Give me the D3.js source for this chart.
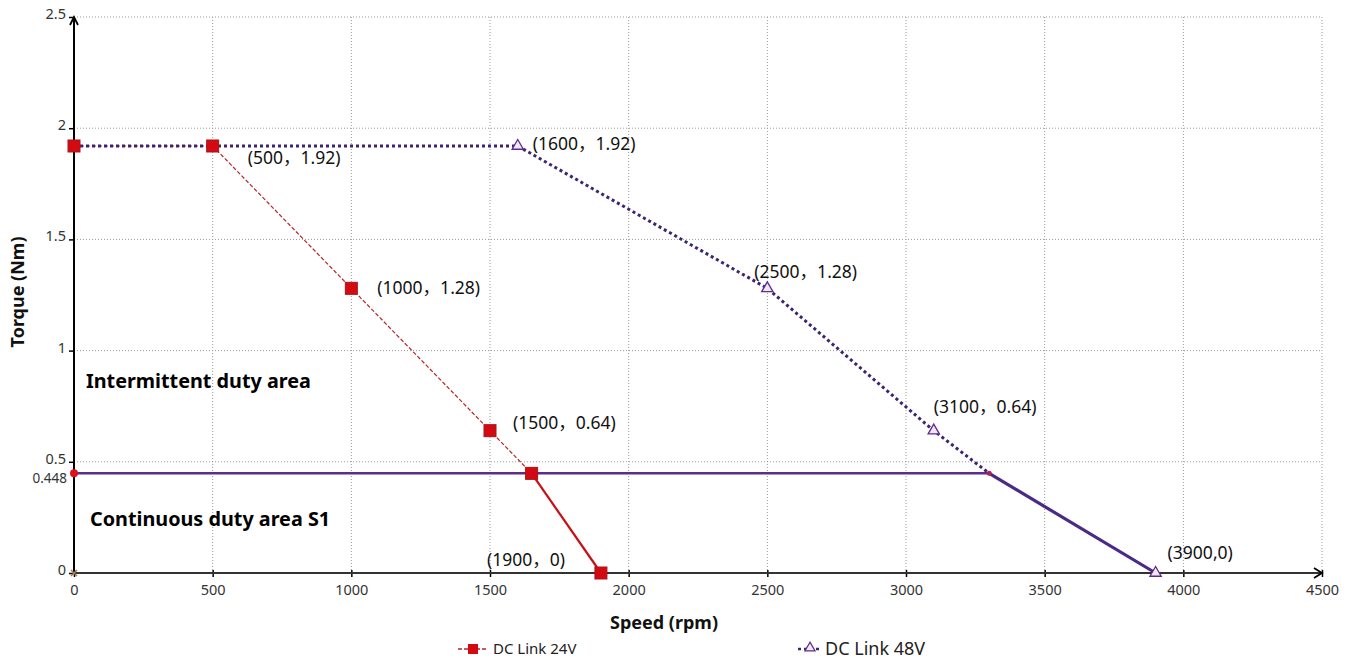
<!DOCTYPE html>
<html><head><meta charset="utf-8">
<script src="https://cdn.jsdelivr.net/npm/d3@7"></script>
<style>body{margin:0;background:#fff;} svg{display:block;font-family:"Noto Sans","Noto Sans CJK SC",sans-serif;}</style>
</head><body>
<svg id="c" width="1348" height="661"></svg>
<script>
// ---- data ----
const xTicks = [0,500,1000,1500,2000,2500,3000,3500,4000,4500];
const yTicks = [0,0.5,1,1.5,2,2.5];
const yTickLabels = ["0","0.5","1","1.5","2","2.5"];
const speed24 = [0,500,1000,1500,1650,1900];
const torque24 = [1.92,1.92,1.28,0.64,0.448,0];
const speed48 = [0,1600,2500,3100,3300,3900];
const torque48 = [1.92,1.92,1.28,0.64,0.448,0];
const contSpeed = [0,3300];
const contTorque = [0.448,0.448];
const annSpeed = [500,1000,1500,1900,1600,2500,3100,3900];
const annTorque = [1.92,1.28,0.64,0,1.92,1.28,0.64,0];
const annText = ["(500，1.92)","(1000，1.28)","(1500，0.64)","(1900，0)","(1600，1.92)","(2500，1.28)","(3100，0.64)","(3900,0)"];
const annOffset = [[35,12],[26,0],[23,-8],[-114,-13],[15,-2],[-13,-16],[0,-24],[12,-20]];

const svg = d3.select("#c");
const x = d3.scaleLinear().domain([0,4500]).range([74,1322]);
const y = d3.scaleLinear().domain([0,2.5]).range([573,17]);

// grid
const g = svg.append("g");
g.selectAll(".vg").data(xTicks.slice(1)).join("line")
  .attr("x1",d=>x(d)).attr("x2",d=>x(d)).attr("y1",y(2.5)).attr("y2",y(0))
  .attr("stroke","#9a9a9a").attr("stroke-width",1).attr("stroke-dasharray","1,2");
g.selectAll(".hg").data(yTicks.slice(1)).join("line")
  .attr("x1",x(0)).attr("x2",x(4500)).attr("y1",d=>y(d)).attr("y2",d=>y(d))
  .attr("stroke","#9a9a9a").attr("stroke-width",1).attr("stroke-dasharray","1,2");

// axes
const xAxis = d3.axisBottom(x).tickValues(xTicks).tickFormat(d3.format("d")).tickSize(4).tickSizeOuter(0);
const xa = svg.append("g").attr("transform",`translate(0,${y(0)})`).call(xAxis);
xa.select(".domain").remove();
xa.selectAll(".tick line").attr("y1",-3).attr("y2",4).attr("stroke","#000").attr("stroke-width",1.5);
xa.selectAll(".tick text").attr("font-size",14.5).attr("fill","#333").attr("y",10).attr("dy","0.8em").attr("font-family","Noto Sans, sans-serif");
const yAxis = d3.axisLeft(y).tickValues(yTicks).tickFormat((d,i)=>yTickLabels[i]).tickSize(5).tickSizeOuter(0);
const ya = svg.append("g").attr("transform",`translate(${x(0)},0)`).call(yAxis);
ya.select(".domain").remove();
ya.selectAll(".tick line").attr("stroke","#000").attr("stroke-width",1.5);
ya.selectAll(".tick text").attr("font-size",14.5).attr("fill","#333").attr("x",-8).attr("dy","0.1em").attr("font-family","Noto Sans, sans-serif");
svg.append("text").attr("x",x(0)-7).attr("y",y(0.448)).attr("dy","0.68em").attr("text-anchor","end")
  .attr("font-size",13.5).attr("fill","#333").text("0.448");

// axis lines with arrows
svg.append("line").attr("x1",x(0)).attr("x2",x(4500)).attr("y1",y(0)).attr("y2",y(0)).attr("stroke","#333").attr("stroke-width",2);
svg.append("path").attr("d",`M${x(4500)-8},${y(0)-5}L${x(4500)},${y(0)}L${x(4500)-8},${y(0)+5}`).attr("fill","none").attr("stroke","#000").attr("stroke-width",1.8);
svg.append("line").attr("x1",x(0)).attr("x2",x(0)).attr("y1",y(0)).attr("y2",y(2.5)).attr("stroke","#000").attr("stroke-width",2);
svg.append("path").attr("d",`M${x(0)-4},${y(2.5)+8}L${x(0)},${y(2.5)}L${x(0)+4},${y(2.5)+8}`).attr("fill","none").attr("stroke","#000").attr("stroke-width",1.8);

// axis titles
svg.append("text").attr("x",664).attr("y",629).attr("text-anchor","middle").attr("font-size",18).attr("font-weight","bold").attr("fill","#111").text("Speed (rpm)");
svg.append("text").attr("transform","translate(24,292) rotate(-90)").attr("text-anchor","middle").attr("font-size",18).attr("font-weight","bold").attr("fill","#111").text("Torque (Nm)");

// area labels
svg.append("text").attr("x",86).attr("y",388).attr("font-size",19.8).attr("font-weight","bold").attr("fill","#000").text("Intermittent duty area");
svg.append("text").attr("x",90).attr("y",526).attr("font-size",19.8).attr("font-weight","bold").attr("fill","#000").text("Continuous duty area S1");

const line = d3.line().x(d=>x(d[0])).y(d=>y(d[1]));
const p24 = speed24.map((s,i)=>[s,torque24[i]]);
const p48 = speed48.map((s,i)=>[s,torque48[i]]);
const pc = contSpeed.map((s,i)=>[s,contTorque[i]]);

// continuous line
svg.append("path").attr("d",line(pc)).attr("fill","none").attr("stroke","#5b2d8e").attr("stroke-width",2.5);

// 24V
svg.append("path").attr("d",line(p24.slice(0,5))).attr("fill","none").attr("stroke","#b3262a").attr("stroke-width",1.2).attr("stroke-dasharray","4,2");
svg.append("path").attr("d",line(p24.slice(4))).attr("fill","none").attr("stroke","#c80f14").attr("stroke-width",2.2);

// 48V
svg.append("path").attr("d",line(p48.slice(0,5))).attr("fill","none").attr("stroke","#3d2470").attr("stroke-width",3).attr("stroke-dasharray","3,3");
svg.append("path").attr("d",line(p48.slice(4))).attr("fill","none").attr("stroke","#4a2a85").attr("stroke-width",3.2);

// markers 24V
svg.selectAll(".sq").data(p24).join("rect")
  .attr("x",d=>x(d[0])-6).attr("y",d=>y(d[1])-6).attr("width",12).attr("height",12)
  .attr("fill","#d40a12").attr("stroke","#a8161b").attr("stroke-width",1);
// markers 48V triangles
const triPts = p48.filter((d,i)=>i!==0 && i!==4);
svg.selectAll(".tri").data(triPts).join("path")
  .attr("transform",d=>`translate(${x(d[0])},${y(d[1])})`)
  .attr("d",d3.symbol().type(d3.symbolTriangle).size(55))
  .attr("fill","#f3e6f3").attr("stroke","#5a2d8a").attr("stroke-width",1.3);
svg.append("circle").attr("cx",x(3300)).attr("cy",y(0.448)).attr("r",2.5).attr("fill","#b0205a");
svg.append("circle").attr("cx",x(0)).attr("cy",y(0.448)).attr("r",4).attr("fill","#e0101a");
svg.append("path").attr("d",`M${x(0)-3},${y(0)-3}L${x(0)+3},${y(0)+3}M${x(0)-3},${y(0)+3}L${x(0)+3},${y(0)-3}`).attr("stroke","#a07a50").attr("stroke-width",1.5);

// annotations
svg.selectAll(".ann").data(annText).join("text")
  .attr("x",(d,i)=>x(annSpeed[i])+annOffset[i][0])
  .attr("y",(d,i)=>y(annTorque[i])+annOffset[i][1])
  .attr("dy","0.35em").attr("font-size",17.5).attr("fill","#111")
  .attr("font-family","Noto Sans, Noto Sans CJK SC, sans-serif").text(d=>d);

// legend
const lg = svg.append("g");
lg.append("line").attr("x1",458).attr("x2",488).attr("y1",649).attr("y2",649).attr("stroke","#b3262a").attr("stroke-width",1.3).attr("stroke-dasharray","4,2");
lg.append("rect").attr("x",468).attr("y",644).attr("width",10).attr("height",10).attr("fill","#d40a12");
lg.append("text").attr("x",493).attr("y",649).attr("dy","0.35em").attr("font-size",15).attr("fill","#222").text("DC Link 24V");
lg.append("line").attr("x1",798).attr("x2",822).attr("y1",649).attr("y2",649).attr("stroke","#3d2470").attr("stroke-width",2.5).attr("stroke-dasharray","3,3");
lg.append("path").attr("transform","translate(810,648)").attr("d",d3.symbol().type(d3.symbolTriangle).size(45)).attr("fill","#f3e6f3").attr("stroke","#5a2d8a").attr("stroke-width",1.2);
lg.append("text").attr("x",825).attr("y",649).attr("dy","0.35em").attr("font-size",18).attr("fill","#222").text("DC Link 48V");
</script>
</body></html>
